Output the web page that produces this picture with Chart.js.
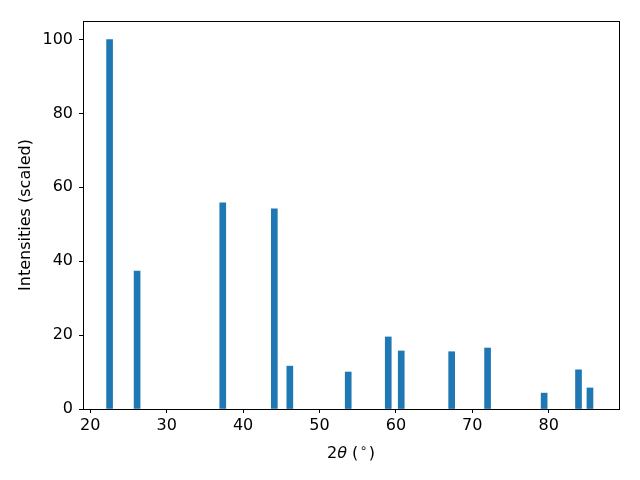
<!DOCTYPE html>
<html>
<head>
<meta charset="utf-8">
<script src="https://cdn.jsdelivr.net/npm/chart.js@4"></script>
<style>
  html, body { margin:0; padding:0; background:#fff; }
  #wrap { width:640px; height:480px; }
</style>
</head>
<body>
<div id="wrap"><canvas id="xrd"></canvas></div>
<script>
// peak positions (2theta, degrees) and scaled intensities
const twoTheta    = [22.53, 26.13, 37.34, 44.09, 46.12, 53.76, 59.0, 60.7, 67.3, 72.0, 79.4, 83.9, 85.4];
const intensities = [100, 37.3, 55.8, 54.2, 11.6, 10.0, 19.5, 15.7, 15.5, 16.5, 4.3, 10.6, 5.7];
const xTicks = [20, 30, 40, 50, 60, 70, 80];
const yTicks = [0, 20, 40, 60, 80, 100];

const FONT = 'DejaVu Sans';

// matplotlib-style box round the axes
const frame = {
  id: 'frame',
  afterDraw(c) {
    const a = c.chartArea, ctx = c.ctx;
    ctx.save();
    ctx.strokeStyle = '#000';
    ctx.lineWidth = 1;
    ctx.strokeRect(Math.round(a.left) + 0.5, Math.round(a.top) + 0.5,
                   Math.round(a.right - a.left), Math.round(a.bottom - a.top));
    ctx.restore();
  }
};

// x label with italic theta and superscript degree
const xlabel = {
  id: 'xlabel',
  afterDraw(c) {
    const ctx = c.ctx, a = c.chartArea;
    const cx = (a.left + a.right) / 2, y = 458;
    const parts = [
      { t: '2', f: '16px ' + FONT, dy: 0 },
      { t: 'θ', f: 'italic 16px ' + FONT, dy: 0 },
      { t: ' (', f: '16px ' + FONT, dy: 0 },
      { t: '∘', f: '12px ' + FONT, dy: -6 },
      { t: ')', f: '16px ' + FONT, dy: 0 }
    ];
    ctx.save();
    ctx.fillStyle = '#000';
    ctx.textBaseline = 'alphabetic';
    let w = 0;
    parts.forEach(p => { ctx.font = p.f; w += ctx.measureText(p.t).width + (p.t === '∘' ? 3 : 0); });
    let x = cx - w / 2;
    parts.forEach(p => {
      ctx.font = p.f;
      if (p.t === '∘') x += 1.5;
      ctx.fillText(p.t, x, y + p.dy);
      x += ctx.measureText(p.t).width + (p.t === '∘' ? 1.5 : 0);
    });
    ctx.restore();
  }
};

new Chart(document.getElementById('xrd'), {
  type: 'bar',
  data: {
    datasets: [{
      data: twoTheta.map((x, i) => ({ x: x, y: intensities[i] })),
      backgroundColor: '#1f77b4',
      borderWidth: 0,
      barThickness: 6
    }]
  },
  options: {
    responsive: true,
    maintainAspectRatio: false,
    animation: false,
    devicePixelRatio: 1,
    layout: { padding: { left: 0, right: 21, top: 21, bottom: 0 } },
    plugins: { legend: { display: false }, tooltip: { enabled: false } },
    scales: {
      x: {
        type: 'linear',
        offset: false,
        min: 19.05,
        max: 89.2,
        afterBuildTicks: s => { s.ticks = xTicks.map(v => ({ value: v })); },
        afterFit: s => { s.height = 71; },
        grid: { offset: false, drawOnChartArea: false, drawTicks: true, tickLength: 4, color: '#000' },
        border: { display: true, color: '#000' },
        ticks: { color: '#000', font: { family: FONT, size: 16 }, padding: 3, maxRotation: 0 }
      },
      y: {
        min: 0,
        max: 105,
        afterBuildTicks: s => { s.ticks = yTicks.map(v => ({ value: v })); },
        afterFit: s => { s.width = 83; },
        grid: { drawOnChartArea: false, drawTicks: true, tickLength: 4, color: '#000' },
        border: { display: true, color: '#000' },
        ticks: { color: '#000', font: { family: FONT, size: 16 }, padding: 6 },
        title: { display: true, text: 'Intensities (scaled)', color: '#000',
                 font: { family: FONT, size: 16 }, padding: { top: 16, bottom: 0 } }
      }
    }
  },
  plugins: [frame, xlabel]
});
</script>
</body>
</html>
